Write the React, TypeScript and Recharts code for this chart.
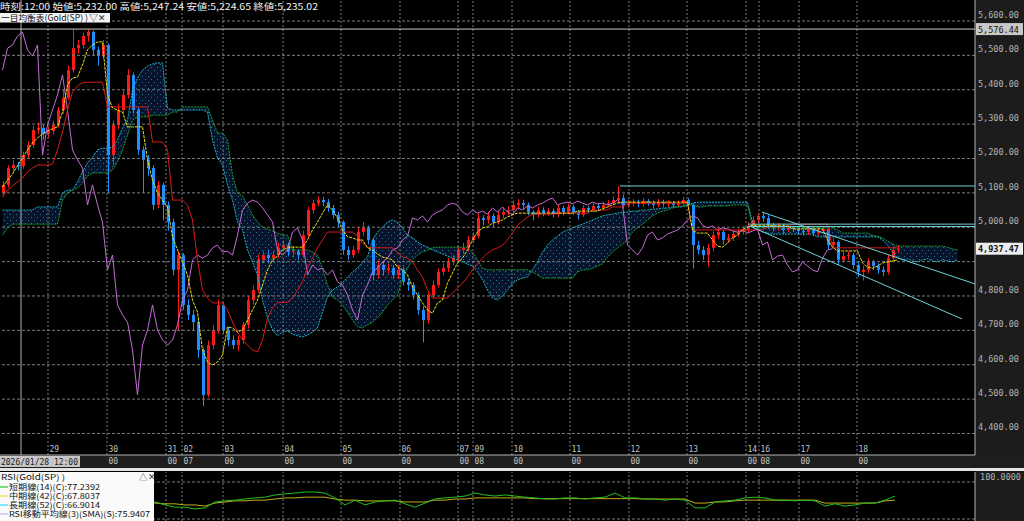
import React from "react";
import {
  ComposedChart,
  LineChart,
  Line,
  Area,
  Bar,
  XAxis,
  YAxis,
  ReferenceLine,
} from "recharts";

// ---- price data (one slot = 2 hourly bars) ----
const firstOpen = 5100;
const closes = [
  5123, 5172, 5181, 5178, 5210, 5239, 5283, 5289, 5271, 5280,
  5297, 5341, 5376, 5457, 5521, 5530, 5556, 5568, 5516, 5498,
  5530, 5210, 5297, 5341, 5385, 5443, 5341, 5225, 5196, 5172,
  5065, 5123, 5065, 5015, 4876, 4919, 4774, 4745, 4724, 4643,
  4512, 4657, 4701, 4774, 4701, 4672, 4657, 4672, 4716, 4788,
  4817, 4905, 4919, 4910, 4919, 4940, 4948, 4928, 4930, 4919,
  4977, 5050, 5070, 5079, 5073, 5056, 5036, 5015, 4934, 4919,
  4934, 4986, 4998, 4963, 4861, 4890, 4876, 4881, 4861, 4876,
  4841, 4832, 4803, 4759, 4730, 4803, 4832, 4870, 4881, 4899,
  4910, 4934, 4940, 4963, 4974, 5027, 5021, 5033, 5015, 5036,
  5044, 5050, 5065, 5070, 5065, 5044, 5036, 5050, 5041, 5047,
  5038, 5056, 5044, 5059, 5044, 5036, 5056, 5050, 5062, 5056,
  5065, 5070, 5079, 5085, 5065, 5070, 5073, 5068, 5076, 5070,
  5065, 5073, 5068, 5070, 5065, 5070, 5079, 5065, 4948, 4934,
  4919, 4940, 4977, 4986, 4963, 4969, 4980, 4986, 4992, 5004,
  5021, 5033, 5027, 5006, 4998, 5004, 4992, 4998, 4995, 4989,
  4986, 4992, 4983, 4989, 4995, 4948, 4957, 4905, 4916, 4919,
  4890, 4870, 4876, 4899, 4887, 4876, 4870, 4910, 4934, 4937.47,
];
const highs = [
  5135, 5180, 5195, 5190, 5220, 5250, 5295, 5305, 5300, 5292,
  5310, 5350, 5400, 5470, 5576, 5545, 5566, 5576, 5572, 5525,
  5545, 5535, 5310, 5360, 5400, 5460, 5450, 5350, 5235, 5210,
  5180, 5135, 5130, 5075, 5025, 4930, 4925, 4790, 4760, 4735,
  4650, 4670, 4715, 4790, 4780, 4710, 4685, 4685, 4725, 4800,
  4830, 4920, 4930, 4935, 4932, 4955, 4962, 4955, 4945, 4935,
  4990, 5060, 5080, 5090, 5088, 5082, 5065, 5045, 5020, 4945,
  4945, 5000, 5015, 5005, 4970, 4905, 4900, 4895, 4890, 4890,
  4885, 4850, 4840, 4810, 4770, 4815, 4845, 4880, 4895, 4910,
  4920, 4945, 4955, 4975, 4985, 5040, 5035, 5045, 5040, 5048,
  5055, 5062, 5078, 5082, 5080, 5072, 5050, 5060, 5058, 5056,
  5055, 5064, 5062, 5068, 5065, 5050, 5064, 5062, 5070, 5068,
  5074, 5078, 5090, 5120, 5095, 5080, 5082, 5080, 5085, 5082,
  5078, 5082, 5080, 5078, 5076, 5078, 5088, 5085, 5070, 4960,
  4945, 4952, 4988, 4998, 4992, 4980, 4990, 4996, 5002, 5014,
  5032, 5040, 5042, 5035, 5012, 5012, 5010, 5006, 5005, 5000,
  4996, 5000, 4998, 4996, 5004, 5000, 4968, 4962, 4928, 4930,
  4925, 4898, 4888, 4910, 4905, 4895, 4885, 4920, 4945, 4948,
];
const lows = [
  5090, 5115, 5160, 5165, 5170, 5200, 5230, 5270, 5255, 5260,
  5270, 5290, 5330, 5370, 5450, 5505, 5520, 5540, 5500, 5470,
  5490, 5100, 5180, 5285, 5330, 5375, 5330, 5210, 5100, 5150,
  5050, 5055, 5020, 4990, 4860, 4700, 4760, 4730, 4700, 4620,
  4480, 4505, 4645, 4690, 4690, 4655, 4645, 4640, 4660, 4705,
  4775, 4810, 4895, 4895, 4900, 4910, 4930, 4915, 4912, 4905,
  4912, 4970, 5040, 5062, 5060, 5045, 5025, 5000, 4920, 4905,
  4910, 4925, 4975, 4950, 4845, 4850, 4860, 4865, 4850, 4850,
  4830, 4815, 4790, 4745, 4665, 4720, 4795, 4825, 4860, 4870,
  4890, 4900, 4925, 4930, 4955, 4968, 5005, 5010, 5000, 5008,
  5025, 5035, 5042, 5055, 5052, 5035, 5020, 5028, 5032, 5034,
  5028, 5030, 5035, 5038, 5036, 5022, 5030, 5040, 5044, 5048,
  5050, 5058, 5064, 5070, 5055, 5058, 5062, 5058, 5060, 5062,
  5056, 5058, 5060, 5060, 5056, 5058, 5064, 5055, 4880, 4920,
  4905, 4885, 4930, 4965, 4950, 4955, 4960, 4972, 4978, 4985,
  4996, 5012, 5015, 4995, 4988, 4990, 4982, 4985, 4986, 4980,
  4976, 4978, 4974, 4976, 4982, 4935, 4940, 4890, 4898, 4905,
  4878, 4855, 4845, 4866, 4875, 4865, 4858, 4862, 4902, 4925,
];

// ---- ichimoku ----
const tenkan = [
  5117, 5137, 5155, 5178, 5201, 5225, 5245, 5260, 5271, 5280,
  5286, 5292, 5335, 5414, 5434, 5437, 5472, 5516, 5530, 5539,
  5539, 5385, 5347, 5341, 5335, 5292, 5292, 5292, 5292, 5196,
  5137, 5100, 5079, 5059, 4972, 4934, 4899, 4861, 4788, 4753,
  4643, 4608, 4599, 4608, 4628, 4710, 4707, 4695, 4701, 4730,
  4759, 4788, 4832, 4876, 4905, 4916, 4934, 4940, 4942, 4942,
  4942, 4963, 4992, 5015, 5041, 5065, 5050, 5027, 4992, 4972,
  4969, 4963, 4963, 4940, 4934, 4922, 4913, 4910, 4905, 4884,
  4876, 4861, 4826, 4803, 4780, 4759, 4750, 4780, 4788, 4838,
  4867, 4896, 4910, 4934, 4963, 4986, 4998, 5001, 5012, 5015,
  5021, 5030, 5036, 5041, 5041, 5041, 5041, 5041, 5041, 5041,
  5041, 5041, 5041, 5041, 5041, 5047, 5047, 5047, 5047, 5047,
  5053, 5059, 5065, 5070, 5073, 5073, 5073, 5073, 5073, 5073,
  5073, 5073, 5073, 5073, 5073, 5073, 5073, 5073, 4992, 4983,
  4983, 4983, 4963, 4945, 4942, 4954, 4969, 4977, 4992, 5001,
  5006, 5006, 5006, 5006, 5004, 5004, 5004, 5004, 4995, 4995,
  4995, 4995, 4995, 4995, 4995, 4963, 4942, 4931, 4931, 4931,
  4931, 4931, 4896, 4884, 4881, 4887, 4896, 4899, 4902, 4905,
];
const kijun = [
  5088, 5108, 5120, 5132, 5143, 5161, 5172, 5181, 5181, 5181,
  5184, 5225, 5277, 5341, 5393, 5411, 5420, 5422, 5422, 5422,
  5422, 5350, 5350, 5350, 5350, 5350, 5350, 5350, 5350, 5350,
  5248, 5248, 5248, 5225, 5079, 5079, 5079, 5065, 5021, 4905,
  4817, 4794, 4780, 4780, 4780, 4759, 4724, 4695, 4672, 4657,
  4643, 4637, 4672, 4736, 4765, 4780, 4782, 4782, 4794, 4817,
  4841, 4881, 4910, 4940, 4963, 4986, 4986, 4986, 4986, 4986,
  4986, 4974, 4954, 4942, 4940, 4940, 4940, 4940, 4940, 4928,
  4913, 4910, 4899, 4876, 4855, 4817, 4794, 4794, 4794, 4794,
  4809, 4823, 4838, 4855, 4876, 4893, 4910, 4925, 4934, 4940,
  4948, 4963, 4983, 5006, 5018, 5030, 5038, 5038, 5038, 5038,
  5038, 5041, 5041, 5041, 5041, 5041, 5041, 5041, 5050, 5050,
  5050, 5050, 5059, 5059, 5059, 5070, 5070, 5070, 5070, 5070,
  5070, 5070, 5070, 5070, 5070, 5070, 5070, 5070, 4992, 4992,
  4992, 4992, 4992, 4992, 4992, 4992, 4992, 4992, 4992, 4992,
  4992, 4992, 4992, 5001, 5001, 5001, 5001, 5001, 5009, 5009,
  5009, 5009, 5009, 5009, 5009, 5009, 4940, 4940, 4940, 4940,
  4940, 4940, 4940, 4940, 4940, 4940, 4940, 4940, 4940, 4940,
];
const spanA = [
  5050, 5050, 5050, 5050, 5050, 5050, 5050, 5059, 5059, 5059,
  5059, 5059, 5100, 5108, 5108, 5132, 5161, 5187, 5204, 5225,
  5230, 5230, 5233, 5254, 5289, 5312, 5399, 5434, 5457, 5469,
  5475, 5478, 5478, 5347, 5341, 5341, 5341, 5341, 5341, 5341,
  5341, 5335, 5254, 5201, 5181, 5123, 5079, 5015, 4992, 4934,
  4899, 4861, 4788, 4736, 4701, 4684, 4695, 4698, 4689, 4684,
  4681, 4686, 4695, 4707, 4753, 4797, 4817, 4826, 4838, 4855,
  4870, 4881, 4899, 4913, 4963, 4986, 5001, 5015, 5021, 5015,
  4998, 4977, 4969, 4957, 4948, 4942, 4934, 4928, 4922, 4916,
  4910, 4905, 4899, 4893, 4887, 4870, 4847, 4817, 4794, 4788,
  4800, 4817, 4835, 4847, 4852, 4855, 4876, 4899, 4928, 4948,
  4963, 4974, 4986, 4992, 4998, 5004, 5009, 5015, 5021, 5027,
  5033, 5036, 5038, 5041, 5044, 5044, 5047, 5047, 5050, 5050,
  5053, 5053, 5056, 5056, 5059, 5059, 5059, 5065, 5070, 5073,
  5073, 5073, 5073, 5073, 5073, 5073, 5073, 5073, 5073, 5073,
  5015, 4998, 4986, 4983, 4980, 4980, 4980, 4980, 4980, 4980,
  4980, 4980, 4980, 4972, 4972, 4972, 4972, 4972, 4972, 4972,
  4972, 4972, 4972, 4972, 4972, 4972, 4963, 4948, 4928, 4910,
  4905, 4908, 4902, 4899, 4905, 4908, 4902, 4899, 4905, 4902, 4899, 4905,
];
const spanB = [
  4977, 4998, 5009, 5009, 5009, 5009, 5009, 5009, 5009, 5009,
  5009, 5009, 5079, 5100, 5108, 5114, 5129, 5149, 5158, 5158,
  5158, 5158, 5166, 5190, 5225, 5268, 5312, 5321, 5321, 5321,
  5326, 5326, 5326, 5326, 5335, 5335, 5350, 5350, 5350, 5350,
  5350, 5350, 5312, 5274, 5274, 5254, 5152, 5100, 5091, 5065,
  5036, 5015, 5001, 4995, 4989, 4983, 4977, 4977, 4934, 4934,
  4934, 4934, 4928, 4919, 4881, 4832, 4797, 4788, 4774, 4753,
  4730, 4710, 4707, 4716, 4724, 4736, 4753, 4774, 4788, 4803,
  4847, 4881, 4905, 4919, 4928, 4934, 4940, 4942, 4942, 4942,
  4942, 4942, 4942, 4942, 4928, 4905, 4881, 4876, 4876, 4876,
  4876, 4876, 4876, 4876, 4876, 4876, 4870, 4861, 4852, 4852,
  4852, 4852, 4852, 4852, 4852, 4870, 4876, 4876, 4881, 4887,
  4893, 4913, 4928, 4940, 4951, 4963, 4986, 4998, 5009, 5021,
  5033, 5041, 5047, 5050, 5056, 5059, 5062, 5065, 5065, 5059,
  5059, 5062, 5062, 5062, 5062, 5062, 5065, 5065, 5065, 5065,
  5004, 4998, 4998, 4998, 4998, 4998, 4998, 4998, 4998, 4998,
  4998, 4998, 4998, 4998, 4998, 4998, 4998, 4992, 4983, 4983,
  4983, 4983, 4983, 4983, 4977, 4974, 4969, 4960, 4951, 4945,
  4945, 4945, 4945, 4945, 4945, 4945, 4945, 4945, 4945, 4942, 4937, 4934,
];
const chikouShift = 13; // 26 bars back

// ---- RSI (one point = 4 hourly bars) ----
const rsiShort = [
  58, 62, 64, 66, 63, 66, 70, 72, 74, 70, 45, 50, 48, 42, 40,
  46, 38, 32, 32, 27, 30, 46, 49, 51, 54, 57, 59, 65, 68, 70,
  73, 73, 70, 57, 38, 51, 38, 46, 49, 51, 41, 32, 43, 54, 57,
  59, 62, 70, 65, 62, 65, 62, 59, 57, 54, 54, 57, 57, 54, 57,
  59, 70, 57, 57, 54, 54, 51, 54, 51, 30, 30, 46, 49, 51, 57,
  59, 57, 51, 51, 49, 51, 49, 35, 41, 35, 38, 43, 43, 51, 62,
];
const rsiMid = [
  56, 58, 60, 61, 60, 61, 63, 64, 65, 63, 52, 53, 51, 48, 47,
  43, 41, 41, 38, 38, 35, 43, 46, 49, 49, 51, 51, 54, 57, 57,
  59, 59, 59, 54, 51, 51, 49, 49, 49, 49, 46, 46, 46, 51, 51,
  54, 54, 57, 57, 57, 57, 57, 57, 55, 55, 55, 55, 55, 55, 55,
  55, 55, 55, 55, 54, 54, 54, 54, 54, 43, 43, 46, 46, 49, 51,
  51, 51, 51, 51, 51, 51, 51, 43, 43, 43, 43, 43, 43, 49, 51,
];

// ---- axes ----
const priceTicks = [4400, 4500, 4600, 4700, 4800, 4900, 5000, 5100, 5200, 5300, 5400, 5500, 5600];
const priceDomain = [4337.4, 5661];
const rsiTicks = [0, 100];
const rsiDomain = [-5.4, 127];
const dayTicks = [9.6, 21.4, 33.2, 36.4, 44.6, 56.6, 68.2, 80, 91.6, 94.6, 102.4, 114, 125.8, 137.4, 149.2, 151.8, 159.8, 171.4];
const dayLabels = ["29", "30", "31", "02", "03", "04", "05", "06", "07", "09", "10", "11", "12", "13", "14", "16", "17", "18"];
// first hour label sits under the cursor time box
const hourLabels = ["", "00", "00", "07", "00", "00", "00", "00", "00", "08", "00", "00", "00", "00", "00", "08", "00", "00"];
const maxPrice = 5576.44;
const lastPrice = 4937.47;
const cursorSlot = 4.2;

// drawn trend lines (slot, price)
const trendLines = [
  { x1: 124, y1: 5120, x2: 195, y2: 5120 },
  { x1: 149.6, y1: 5009, x2: 195, y2: 5009 },
  { x1: 149.6, y1: 5002, x2: 195, y2: 5002 },
  { x1: 152.4, y1: 5044, x2: 195, y2: 4835 },
  { x1: 150, y1: 5003, x2: 192.4, y2: 4733 },
];

const MONO = "'DejaVu Sans Mono', monospace";
const JP = "'Noto Sans CJK JP', sans-serif";
const UP = "#ff1a1a";
const DOWN = "#1f8fff";

const rows = spanA.map((a, i) => {
  const b = spanB[i];
  const row: any = { x: i + 0.5, spanA: a, spanB: b, cloud: [Math.min(a, b), Math.max(a, b)] };
  if (i < closes.length) {
    row.o = i === 0 ? firstOpen : closes[i - 1];
    row.c = closes[i];
    row.h = highs[i];
    row.l = lows[i];
    row.range = [lows[i], highs[i]];
    row.tenkan = tenkan[i];
    row.kijun = kijun[i];
  }
  if (i + chikouShift < closes.length) row.chikou = closes[i + chikouShift];
  return row;
});

const rsiRows = rsiShort.map((s, j) => ({ x: 2 * j + 1, s, m: rsiMid[j] }));

const fmtPrice = (v: number) =>
  v.toLocaleString("en-US", { minimumFractionDigits: 2, maximumFractionDigits: 2 });

const Candle = (props: any) => {
  const { x, y, width, height, payload } = props;
  if (!payload || payload.o == null || y == null || height == null) return null;
  const { o, c, h, l } = payload;
  const top = height >= 0 ? y : y + height;
  const hh = Math.abs(height);
  const cx = Math.round(x + width / 2) + 0.5;
  const span = h - l || 1;
  const yOf = (v: number) => top + ((h - v) / span) * hh;
  const col = c >= o ? UP : DOWN;
  const bTop = yOf(Math.max(o, c));
  const bBot = yOf(Math.min(o, c));
  return (
    <g>
      <line x1={cx} x2={cx} y1={top} y2={top + hh} stroke={col} strokeWidth={1} />
      <rect x={cx - 1.5} y={bTop} width={3} height={Math.max(1, bBot - bTop)} fill={col} />
    </g>
  );
};

const PriceTick = (props: any) => {
  const { x, y, payload } = props;
  // the 4,900 label is covered by the last-price tag
  if (Math.abs(payload.value - lastPrice) < 50) return null;
  return (
    <text x={x} y={y - 3} fill="#b4b4b4" fontSize={8.5} fontFamily={MONO}>
      {fmtPrice(payload.value)}
    </text>
  );
};

const RsiTick = (props: any) => {
  const { y, payload } = props;
  return (
    <text x={1021} y={y - 2.5} fill="#b4b4b4" fontSize={8.5} fontFamily={MONO} textAnchor="end">
      {payload.value.toFixed(4)}
    </text>
  );
};

const DayTick = (props: any) => {
  const { x, y, payload } = props;
  const k = dayTicks.indexOf(payload.value);
  if (k < 0) return null;
  return (
    <g fontFamily={MONO} fontSize={8} fill="#c0c0c0">
      <text x={x + 1.5} y={y - 3}>{dayLabels[k]}</text>
      {hourLabels[k] ? <text x={x + 1.5} y={y + 9}>{hourLabels[k]}</text> : null}
    </g>
  );
};

const PriceTag = (props: any) => {
  const { viewBox, text, bold } = props;
  if (!viewBox) return null;
  const x = viewBox.x + viewBox.width;
  const y = viewBox.y;
  return (
    <g>
      <rect x={x + 1} y={y - 6} width={47} height={12} fill={bold ? "#ececec" : "#c8c8c8"} />
      <text x={x + 3} y={y + 3.5} fontSize={8.5} fontWeight={bold ? "bold" : "normal"} fill="#111" fontFamily={MONO}>
        {text}
      </text>
    </g>
  );
};

export default function App() {
  return (
    <div style={{ position: "absolute", left: 0, top: 0, width: 1024, height: 521, background: "#000", overflow: "hidden" }}>
      <div style={{ position: "absolute", left: 975, top: 0, width: 49, height: 455, background: "#1c1c1c" }} />
      <div style={{ position: "absolute", left: 0, top: 455, width: 1024, height: 13, background: "#1e1e1e" }} />
      <div style={{ position: "absolute", left: 0, top: 468, width: 1024, height: 3, background: "#e4e4e4" }} />
      <div style={{ position: "absolute", left: 975, top: 471, width: 49, height: 50, background: "#1c1c1c" }} />

      <div style={{ position: "absolute", left: 0, top: 0 }}>
        <ComposedChart width={1024} height={467} data={rows} margin={{ top: 0, right: 0, bottom: 0, left: 0 }}>
          <defs>
            <pattern id="kumo" width="6" height="6" patternUnits="userSpaceOnUse">
              <rect width="6" height="6" fill="#07142c" />
              <rect x="1" y="1" width="1" height="1" fill="#1f7898" />
              <rect x="4" y="4" width="1" height="1" fill="#1f7898" />
            </pattern>
          </defs>
          <XAxis
            type="number"
            dataKey="x"
            domain={[0, 195]}
            ticks={dayTicks}
            interval={0}
            height={12}
            tickSize={0}
            tickMargin={0}
            tick={DayTick}
            axisLine={{ stroke: "#b4b4b4" }}
            tickLine={false}
            allowDataOverflow
          />
          <YAxis
            orientation="right"
            type="number"
            domain={priceDomain}
            ticks={priceTicks}
            width={49}
            tickSize={0}
            tickMargin={3}
            tick={PriceTick}
            axisLine={{ stroke: "#b4b4b4" }}
            tickLine={false}
            allowDataOverflow
          />
          {priceTicks.map((p) => (
            <ReferenceLine key={"h" + p} y={p} stroke="#7c7c7c" strokeDasharray="3 2" />
          ))}
          {dayTicks.map((d) => (
            <ReferenceLine key={"v" + d} x={d} stroke="#7c7c7c" strokeDasharray="2 2" />
          ))}
          <ReferenceLine x={cursorSlot} stroke="#b0b0b0" />
          <ReferenceLine y={maxPrice} stroke="#c8c8c8" label={<PriceTag text={fmtPrice(maxPrice)} />} />

          <Area dataKey="cloud" fill="url(#kumo)" fillOpacity={1} stroke="none" isAnimationActive={false} dot={false} activeDot={false} />
          <Line dataKey="spanA" stroke="#22b6c8" strokeDasharray="2 1" dot={false} activeDot={false} isAnimationActive={false} />
          <Line dataKey="spanB" stroke="#16a832" strokeDasharray="2 1" dot={false} activeDot={false} isAnimationActive={false} />
          <Line dataKey="chikou" stroke="#c66cd6" dot={false} activeDot={false} isAnimationActive={false} />
          <Line dataKey="kijun" stroke="#dc1a1a" dot={false} activeDot={false} isAnimationActive={false} />
          <Bar dataKey="range" barSize={3} shape={Candle} isAnimationActive={false} />
          <Line dataKey="tenkan" stroke="#f0e414" strokeDasharray="3 1" dot={false} activeDot={false} isAnimationActive={false} />

          {trendLines.map((t, k) => (
            <ReferenceLine
              key={"t" + k}
              segment={[{ x: t.x1, y: t.y1 }, { x: t.x2, y: t.y2 }]}
              stroke="#72d2da"
              strokeWidth={1}
              ifOverflow="visible"
            />
          ))}
          <ReferenceLine y={lastPrice} stroke="#000" strokeOpacity={0} label={<PriceTag text={fmtPrice(lastPrice)} bold />} />
        </ComposedChart>
      </div>

      <div style={{ position: "absolute", left: 0, top: 472 }}>
        <LineChart width={1024} height={49} data={rsiRows} margin={{ top: 0, right: 0, bottom: 0, left: 0 }}>
          <XAxis type="number" dataKey="x" domain={[0, 195]} hide allowDataOverflow />
          <YAxis
            orientation="right"
            type="number"
            domain={rsiDomain}
            ticks={rsiTicks}
            width={49}
            tickSize={0}
            tick={RsiTick}
            axisLine={{ stroke: "#b4b4b4" }}
            tickLine={false}
            allowDataOverflow
          />
          {rsiTicks.map((v) => (
            <ReferenceLine key={"rh" + v} y={v} stroke="#7c7c7c" strokeDasharray="3 2" />
          ))}
          {dayTicks.map((d) => (
            <ReferenceLine key={"rv" + d} x={d} stroke="#7c7c7c" strokeDasharray="2 2" />
          ))}
          <Line dataKey="m" stroke="#c2ac1c" dot={false} activeDot={false} isAnimationActive={false} />
          <Line dataKey="s" stroke="#22c022" dot={false} activeDot={false} isAnimationActive={false} />
        </LineChart>
      </div>

      <svg width={1024} height={521} style={{ position: "absolute", left: 0, top: 0, pointerEvents: "none" }}>
        <text x={0} y={9.5} fill="#f2f2f2" fontSize={9} fontFamily={JP} textLength={318} lengthAdjust="spacingAndGlyphs">
          時刻:12:00 始値:5,232.00 高値:5,247.24 安値:5,224.65 終値:5,235.02
        </text>
        <rect x={0} y={13} width={110} height={9.5} fill="#f4f4f4" />
        <text x={1} y={21} fill="#111" fontSize={8.5} fontFamily={JP} textLength={87} lengthAdjust="spacingAndGlyphs">
          一目均衡表(Gold(SP) )
        </text>
        <text x={89} y={21} fill="#333" fontSize={9} fontFamily={JP}>▽✕</text>

        <rect x={0} y={456} width={80} height={11} fill="#c6c6c6" />
        <text x={1} y={465} fill="#222" fontSize={8.5} fontFamily={MONO} textLength={77} lengthAdjust="spacingAndGlyphs">
          2026/01/28 12:00
        </text>

        <rect x={0} y={472} width={154} height={49} fill="#fafafa" />
        <text x={1} y={480} fill="#111" fontSize={8} fontFamily={JP} textLength={64} lengthAdjust="spacingAndGlyphs">
          RSI(Gold(SP) )
        </text>
        <text x={139} y={480} fill="#444" fontSize={8.5} fontFamily={JP}>△✕</text>
        <line x1={0} x2={8} y1={487} y2={487} stroke="#00c000" />
        <text x={9} y={490} fill="#111" fontSize={8} fontFamily={JP} textLength={91} lengthAdjust="spacingAndGlyphs">
          短期線(14)(C):77.2392
        </text>
        <line x1={0} x2={8} y1={496} y2={496} stroke="#e0e000" />
        <text x={9} y={499} fill="#111" fontSize={8} fontFamily={JP} textLength={91} lengthAdjust="spacingAndGlyphs">
          中期線(42)(C):67.8037
        </text>
        <line x1={0} x2={8} y1={505} y2={505} stroke="#00d8ff" />
        <text x={9} y={508} fill="#111" fontSize={8} fontFamily={JP} textLength={91} lengthAdjust="spacingAndGlyphs">
          長期線(52)(C):66.9014
        </text>
        <line x1={0} x2={8} y1={514} y2={514} stroke="#b0a4ff" />
        <text x={9} y={517} fill="#111" fontSize={8} fontFamily={JP} textLength={141} lengthAdjust="spacingAndGlyphs">
          RSI移動平均線(3)(SMA)(S):75.9407
        </text>
      </svg>
    </div>
  );
}
